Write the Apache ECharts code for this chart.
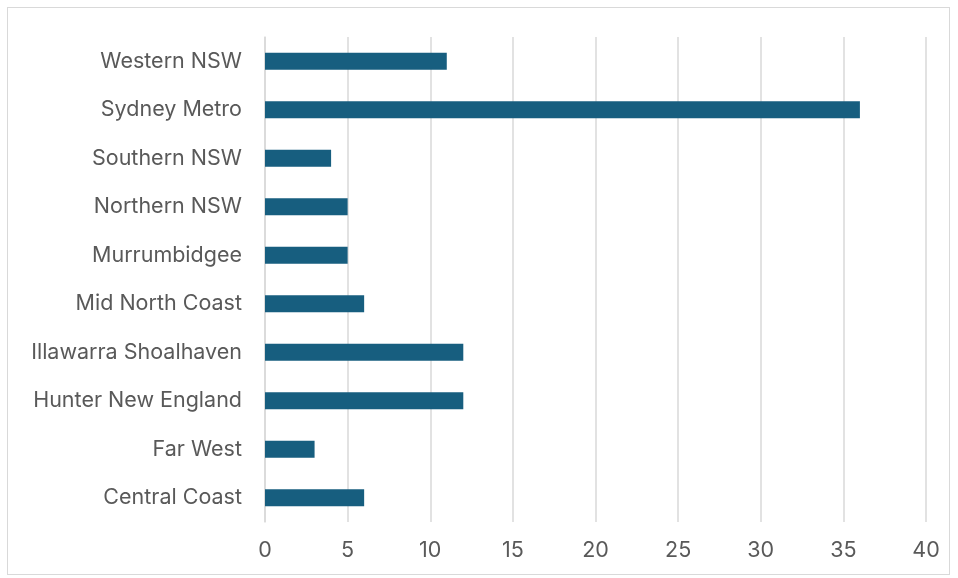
<!DOCTYPE html>
<html><head><meta charset="utf-8">
<script src="https://cdn.jsdelivr.net/npm/echarts@6/dist/echarts.min.js"></script>
<style>html,body{margin:0;padding:0;background:#fff}#c{width:958px;height:578px}
#frame{position:absolute;left:7px;top:7px;width:943px;height:568px;border:1px solid #d9d9d9;box-sizing:border-box;pointer-events:none}</style>
</head><body><div id="c"></div><div id="frame"></div>
<script>
const categories = ["Central Coast","Far West","Hunter New England","Illawarra Shoalhaven","Mid North Coast","Murrumbidgee","Northern NSW","Southern NSW","Sydney Metro","Western NSW"];
const values = [6,3,12,12,6,5,5,4,36,11];
const chart = echarts.init(document.getElementById('c'), null, {renderer:'canvas'});
chart.setOption({
  animation:false,
  grid:{left:265,right:32,top:37,bottom:56,containLabel:false},
  xAxis:{type:'value',min:0,max:40,interval:5,
    axisLine:{show:false},axisTick:{show:false},
    splitLine:{lineStyle:{color:'#d9d9d9',width:1.5}},
    axisLabel:{color:'#595959',fontSize:21.5,fontFamily:'Inter, "Noto Sans", sans-serif',margin:18}},
  yAxis:{type:'category',data:categories,
    axisLine:{show:true,lineStyle:{color:'#d9d9d9',width:1.5}},axisTick:{show:false},
    axisLabel:{color:'#595959',fontSize:21.5,fontFamily:'Inter, "Noto Sans", sans-serif',margin:23}},
  series:[{type:'bar',data:values,barWidth:17,itemStyle:{color:'#175e7f'}}]
});
</script></body></html>
